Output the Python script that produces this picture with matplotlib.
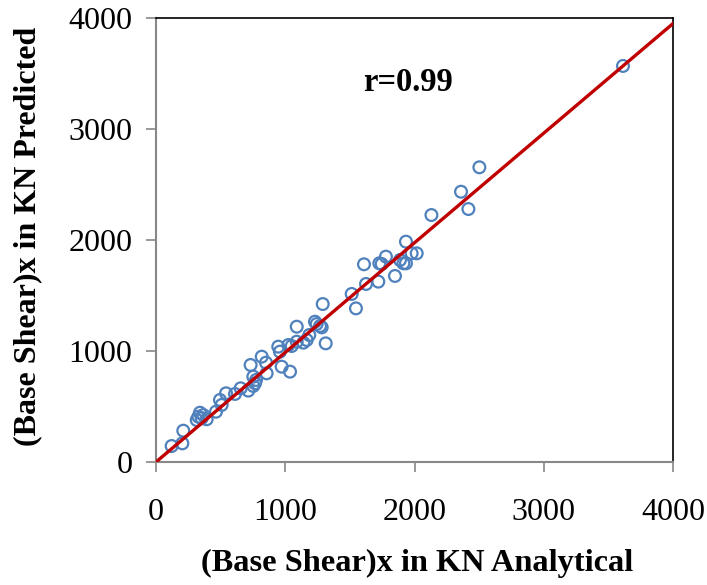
import matplotlib
matplotlib.use("Agg")
import matplotlib.pyplot as plt
import numpy as np

analytical = [121, 204, 211, 328, 340, 366, 315, 392, 353, 464, 508, 495, 542, 611, 655, 714,
              732, 753, 766, 753, 774, 818, 851, 856, 946, 959, 972, 1037, 1024, 1050, 1089,
              1089, 1140, 1166, 1186, 1230, 1243, 1269, 1282, 1290, 1313, 1514, 1547, 1609,
              1625, 1720, 1728, 1746, 1779, 1849, 1888, 1914, 1934, 1934, 1978, 2017, 2131,
              2360, 2417, 2502, 3613]
predicted = [144, 168, 282, 408, 444, 423, 378, 385, 394, 453, 514, 559, 619, 613, 664, 643,
             874, 769, 709, 685, 739, 949, 895, 799, 1039, 994, 859, 814, 1054, 1045, 1219,
             1084, 1075, 1099, 1144, 1264, 1243, 1225, 1213, 1423, 1069, 1514, 1384, 1781,
             1604, 1625, 1790, 1784, 1850, 1676, 1820, 1790, 1790, 1985, 1880, 1880, 2225,
             2435, 2279, 2655, 3568]
fit_x = [0, 4000]
fit_y = [0, 3950]
ticks = [0, 1000, 2000, 3000, 4000]
r_label = "r=0.99"

plt.rcParams['font.family'] = ['Liberation Serif', 'DejaVu Serif']

fig = plt.figure(figsize=(7.07, 5.85), dpi=100)
ax = fig.add_axes([156/707, 1-462/585, (673-156)/707, (462-18)/585])

ax.scatter(analytical, predicted, s=72, facecolors='none', edgecolors='#4f81bd',
           linewidths=1.6, zorder=3)
ax.plot(fit_x, fit_y, color='#c00000', linewidth=2.4, zorder=4)

ax.set_xlim(0, 4000)
ax.set_ylim(0, 4000)
ax.set_xticks(ticks)
ax.set_yticks(ticks)
ax.set_xticklabels([str(t) for t in ticks])
ax.set_yticklabels([str(t) for t in ticks])
ax.tick_params(axis='both', direction='out', length=7, width=1.2, color='#888888',
               labelsize=23, pad=10)
ax.tick_params(axis='x', pad=19)

for side in ['left', 'bottom']:
    ax.spines[side].set_color('#888888')
    ax.spines[side].set_linewidth(1.5)
for side in ['top', 'right']:
    ax.spines[side].set_color('black')
    ax.spines[side].set_linewidth(1.2)

ax.text(1950, 3420, r_label, fontsize=23.5, fontweight='bold', ha='center', va='center')

fig.text(417/707, 1-563/585, "(Base Shear)x in KN Analytical", fontsize=23.3,
         fontweight='bold', ha='center', va='center')
fig.text(28/707, 1-236/585, "(Base Shear)x in KN Predicted", fontsize=23,
         fontweight='bold', ha='center', va='center', rotation=90)

fig.savefig("out.png", dpi=100)
